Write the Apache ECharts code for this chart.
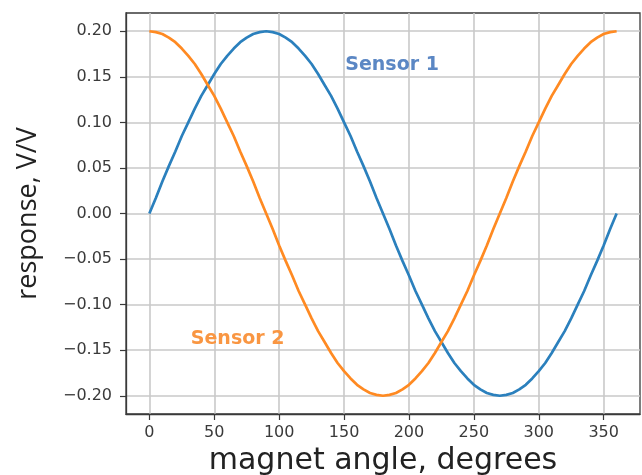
<!DOCTYPE html>
<html>
<head>
<meta charset="utf-8">
<script src="https://cdn.jsdelivr.net/npm/echarts@6/dist/echarts.min.js"></script>
<style>html,body{margin:0;padding:0;background:#fff;}#c{width:642px;height:475px;}</style>
</head>
<body>
<div id="c"></div>
<script>
// magnet angle, degrees
var angles = [0,5,10,15,20,25,30,35,40,45,50,55,60,65,70,75,80,85,90,95,100,105,110,115,120,125,130,135,140,145,150,155,160,165,170,175,180,185,190,195,200,205,210,215,220,225,230,235,240,245,250,255,260,265,270,275,280,285,290,295,300,305,310,315,320,325,330,335,340,345,350,355,360];
// Sensor 1 response, V/V
var sensor1 = [0.000,0.017,0.035,0.052,0.068,0.085,0.100,0.115,0.129,0.141,0.153,0.164,0.173,0.181,0.188,0.193,0.197,0.199,0.200,0.199,0.197,0.193,0.188,0.181,0.173,0.164,0.153,0.141,0.129,0.115,0.100,0.085,0.068,0.052,0.035,0.017,0.000,-0.017,-0.035,-0.052,-0.068,-0.085,-0.100,-0.115,-0.129,-0.141,-0.153,-0.164,-0.173,-0.181,-0.188,-0.193,-0.197,-0.199,-0.200,-0.199,-0.197,-0.193,-0.188,-0.181,-0.173,-0.164,-0.153,-0.141,-0.129,-0.115,-0.100,-0.085,-0.068,-0.052,-0.035,-0.017,0.000];
// Sensor 2 response, V/V
var sensor2 = [0.200,0.199,0.197,0.193,0.188,0.181,0.173,0.164,0.153,0.141,0.129,0.115,0.100,0.085,0.068,0.052,0.035,0.017,0.000,-0.017,-0.035,-0.052,-0.068,-0.085,-0.100,-0.115,-0.129,-0.141,-0.153,-0.164,-0.173,-0.181,-0.188,-0.193,-0.197,-0.199,-0.200,-0.199,-0.197,-0.193,-0.188,-0.181,-0.173,-0.164,-0.153,-0.141,-0.129,-0.115,-0.100,-0.085,-0.068,-0.052,-0.035,-0.017,0.000,0.017,0.035,0.052,0.068,0.085,0.100,0.115,0.129,0.141,0.153,0.164,0.173,0.181,0.188,0.193,0.197,0.199,0.200];
var xTicks = [0,50,100,150,200,250,300,350];
var yTicks = [-0.20,-0.15,-0.10,-0.05,0.00,0.05,0.10,0.15,0.20];
var label1 = {text:'Sensor 1', x:187, y:0.163};
var label2 = {text:'Sensor 2', x:68, y:-0.1375};

function pairs(xs, ys){ return xs.map(function(x,i){return [x, ys[i]];}); }

var chart = echarts.init(document.getElementById('c'), null, {renderer:'canvas'});
var frameColor = '#3a3a3a';
var gridColor = '#c9c9c9';
var tickFont = {fontFamily:'DejaVu Sans', fontSize:16, color:'#3a3a3a'};
chart.setOption({
  animation:false,
  backgroundColor:'#fff',
  grid:{left:126, top:13, right:2, bottom:61, containLabel:false, outerBoundsMode:'none',
        show:true, borderColor:frameColor, borderWidth:1.3, backgroundColor:'transparent'},
  xAxis:{
    type:'value', min:-18, max:378,
    axisLine:{show:true, onZero:false, lineStyle:{color:frameColor, width:1.3}},
    axisTick:{show:true, length:6, customValues:xTicks, lineStyle:{color:frameColor, width:1.2}},
    axisLabel:Object.assign({customValues:xTicks, margin:11, formatter:function(v){return String(v);}}, tickFont),
    splitLine:{show:true, lineStyle:{color:gridColor, width:1.6}},
    name:'magnet angle, degrees', nameLocation:'middle', nameGap:30,
    nameTextStyle:{fontFamily:'DejaVu Sans', fontSize:30, color:'#222', verticalAlign:'top'}
  },
  yAxis:{
    type:'value', min:-0.22, max:0.22,
    axisLine:{show:true, onZero:false, lineStyle:{color:frameColor, width:1.3}},
    axisTick:{show:true, length:6, customValues:yTicks, lineStyle:{color:frameColor, width:1.2}},
    axisLabel:Object.assign({customValues:yTicks, margin:14, formatter:function(v){return v.toFixed(2).replace('-','\u2212');}}, tickFont),
    splitLine:{show:true, lineStyle:{color:gridColor, width:1.6}},
    name:'response, V/V', nameLocation:'middle', nameGap:84,
    nameTextStyle:{fontFamily:'Open Sans', fontSize:27, color:'#222'}
  },
  series:[
    {type:'line', name:'Sensor 1', data:pairs(angles, sensor1), showSymbol:false, symbol:'none', smooth:false,
     lineStyle:{color:'#2b80bd', width:2.7}, itemStyle:{color:'#2b80bd'},
     markPoint:{symbol:'circle', symbolSize:0, data:[{coord:[label1.x,label1.y], value:label1.text}],
       label:{show:true, position:'inside', formatter:label1.text, fontFamily:'DejaVu Sans', fontWeight:'bold', fontSize:19, color:'#5b87c4'}}},
    {type:'line', name:'Sensor 2', data:pairs(angles, sensor2), showSymbol:false, symbol:'none', smooth:false,
     lineStyle:{color:'#ff8a22', width:2.7}, itemStyle:{color:'#ff8a22'},
     markPoint:{symbol:'circle', symbolSize:0, data:[{coord:[label2.x,label2.y], value:label2.text}],
       label:{show:true, position:'inside', formatter:label2.text, fontFamily:'DejaVu Sans', fontWeight:'bold', fontSize:19, color:'#f99642'}}}
  ]
});
</script>
</body>
</html>
